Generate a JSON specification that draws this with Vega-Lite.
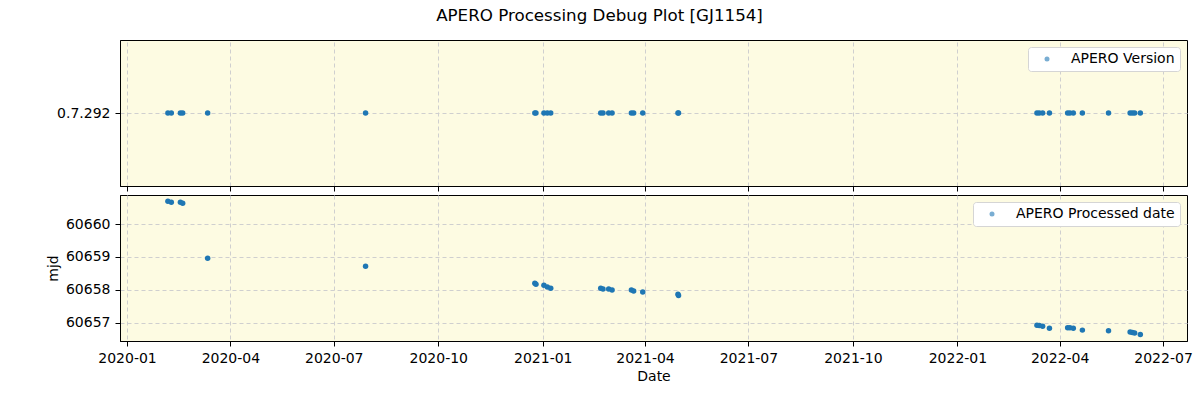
{
  "$schema": "https://vega.github.io/schema/vega-lite/v6.json",
  "padding": {"left": 45, "top": 7, "right": 12, "bottom": 10},
  "title": {"text": "APERO Processing Debug Plot [GJ1154]", "anchor": "middle", "frame": "group", "dx": -54, "fontSize": 16.7, "fontWeight": "normal", "font": "DejaVu Sans", "color": "black", "offset": 15},
  "config": {
    "font": "DejaVu Sans",
    "view": {"stroke": "black", "strokeWidth": 1, "fill": "#fdfbe2"},
    "axis": {"domainColor": "black", "tickColor": "black", "tickSize": 5, "labelFontSize": 14, "labelColor": "black", "titleFontSize": 14, "titleFontWeight": "normal", "titleColor": "black", "gridColor": "#cfcfcf", "gridDash": [4, 3], "gridWidth": 1, "labelPadding": 5},
    "legend": {"orient": "top-right", "offset": 7, "padding": 5, "fillColor": "white", "strokeColor": "#d5d5d5", "cornerRadius": 3, "labelFontSize": 14, "labelColor": "black", "symbolType": "circle", "symbolSize": 25, "symbolOpacity": 0.6, "symbolStrokeWidth": 0, "symbolOffset": 7, "labelOffset": 17, "title": null}
  },
  "data": {"values": [
    {"date": "2020-02-06", "mjd": 60660.69, "version": "0.7.292"},
    {"date": "2020-02-09", "mjd": 60660.66, "version": "0.7.292"},
    {"date": "2020-02-17", "mjd": 60660.66, "version": "0.7.292"},
    {"date": "2020-02-19", "mjd": 60660.63, "version": "0.7.292"},
    {"date": "2020-03-12", "mjd": 60658.96, "version": "0.7.292"},
    {"date": "2020-07-29", "mjd": 60658.72, "version": "0.7.292"},
    {"date": "2020-12-25", "mjd": 60658.20, "version": "0.7.292"},
    {"date": "2020-12-26", "mjd": 60658.17, "version": "0.7.292"},
    {"date": "2021-01-02", "mjd": 60658.14, "version": "0.7.292"},
    {"date": "2021-01-05", "mjd": 60658.09, "version": "0.7.292"},
    {"date": "2021-01-08", "mjd": 60658.05, "version": "0.7.292"},
    {"date": "2021-02-21", "mjd": 60658.05, "version": "0.7.292"},
    {"date": "2021-02-23", "mjd": 60658.03, "version": "0.7.292"},
    {"date": "2021-02-28", "mjd": 60658.03, "version": "0.7.292"},
    {"date": "2021-03-03", "mjd": 60658.00, "version": "0.7.292"},
    {"date": "2021-03-20", "mjd": 60658.00, "version": "0.7.292"},
    {"date": "2021-03-22", "mjd": 60657.97, "version": "0.7.292"},
    {"date": "2021-03-30", "mjd": 60657.94, "version": "0.7.292"},
    {"date": "2021-04-30", "mjd": 60657.87, "version": "0.7.292"},
    {"date": "2021-04-30T12:00:00", "mjd": 60657.83, "version": "0.7.292"},
    {"date": "2022-03-12", "mjd": 60656.93, "version": "0.7.292"},
    {"date": "2022-03-14", "mjd": 60656.92, "version": "0.7.292"},
    {"date": "2022-03-17", "mjd": 60656.90, "version": "0.7.292"},
    {"date": "2022-03-23", "mjd": 60656.84, "version": "0.7.292"},
    {"date": "2022-04-08", "mjd": 60656.85, "version": "0.7.292"},
    {"date": "2022-04-10", "mjd": 60656.85, "version": "0.7.292"},
    {"date": "2022-04-13", "mjd": 60656.84, "version": "0.7.292"},
    {"date": "2022-04-21", "mjd": 60656.78, "version": "0.7.292"},
    {"date": "2022-05-14", "mjd": 60656.76, "version": "0.7.292"},
    {"date": "2022-06-02", "mjd": 60656.72, "version": "0.7.292"},
    {"date": "2022-06-04", "mjd": 60656.71, "version": "0.7.292"},
    {"date": "2022-06-06", "mjd": 60656.69, "version": "0.7.292"},
    {"date": "2022-06-11", "mjd": 60656.65, "version": "0.7.292"}
  ]},
  "spacing": 2,
  "resolve": {"scale": {"color": "independent"}, "legend": {"color": "independent"}},
  "vconcat": [
    {
      "width": 1067,
      "height": 146,
      "mark": {"type": "point", "filled": true, "opacity": 1, "size": 30},
      "encoding": {
        "x": {"field": "date", "type": "temporal",
          "scale": {"type": "utc", "domain": [{"year": 2019, "month": 12, "date": 25, "hours": 20, "utc": true}, {"year": 2022, "month": 7, "date": 22, "hours": 2, "utc": true}]},
          "axis": {"labels": false, "title": null, "grid": true,
            "values": [
              {"year": 2020, "month": 1, "date": 1, "utc": true}, {"year": 2020, "month": 4, "date": 1, "utc": true},
              {"year": 2020, "month": 7, "date": 1, "utc": true}, {"year": 2020, "month": 10, "date": 1, "utc": true},
              {"year": 2021, "month": 1, "date": 1, "utc": true}, {"year": 2021, "month": 4, "date": 1, "utc": true},
              {"year": 2021, "month": 7, "date": 1, "utc": true}, {"year": 2021, "month": 10, "date": 1, "utc": true},
              {"year": 2022, "month": 1, "date": 1, "utc": true}, {"year": 2022, "month": 4, "date": 1, "utc": true},
              {"year": 2022, "month": 7, "date": 1, "utc": true}]}},
        "y": {"field": "version", "type": "nominal", "axis": {"title": null, "grid": true}},
        "color": {"datum": "APERO Version", "type": "nominal", "scale": {"range": ["#1f77b4"]}}
      }
    },
    {
      "width": 1067,
      "height": 146,
      "mark": {"type": "point", "filled": true, "opacity": 1, "size": 30},
      "encoding": {
        "x": {"field": "date", "type": "temporal",
          "scale": {"type": "utc", "domain": [{"year": 2019, "month": 12, "date": 25, "hours": 20, "utc": true}, {"year": 2022, "month": 7, "date": 22, "hours": 2, "utc": true}]},
          "axis": {"title": "Date", "format": "%Y-%m", "grid": true, "titlePadding": 4,
            "values": [
              {"year": 2020, "month": 1, "date": 1, "utc": true}, {"year": 2020, "month": 4, "date": 1, "utc": true},
              {"year": 2020, "month": 7, "date": 1, "utc": true}, {"year": 2020, "month": 10, "date": 1, "utc": true},
              {"year": 2021, "month": 1, "date": 1, "utc": true}, {"year": 2021, "month": 4, "date": 1, "utc": true},
              {"year": 2021, "month": 7, "date": 1, "utc": true}, {"year": 2021, "month": 10, "date": 1, "utc": true},
              {"year": 2022, "month": 1, "date": 1, "utc": true}, {"year": 2022, "month": 4, "date": 1, "utc": true},
              {"year": 2022, "month": 7, "date": 1, "utc": true}]}},
        "y": {"field": "mjd", "type": "quantitative",
          "scale": {"domain": [60656.45, 60660.88], "zero": false, "nice": false},
          "axis": {"title": "mjd", "values": [60657, 60658, 60659, 60660], "format": "d", "grid": true, "titlePadding": 5}},
        "color": {"datum": "APERO Processed date", "type": "nominal", "scale": {"range": ["#1f77b4"]}}
      }
    }
  ]
}
